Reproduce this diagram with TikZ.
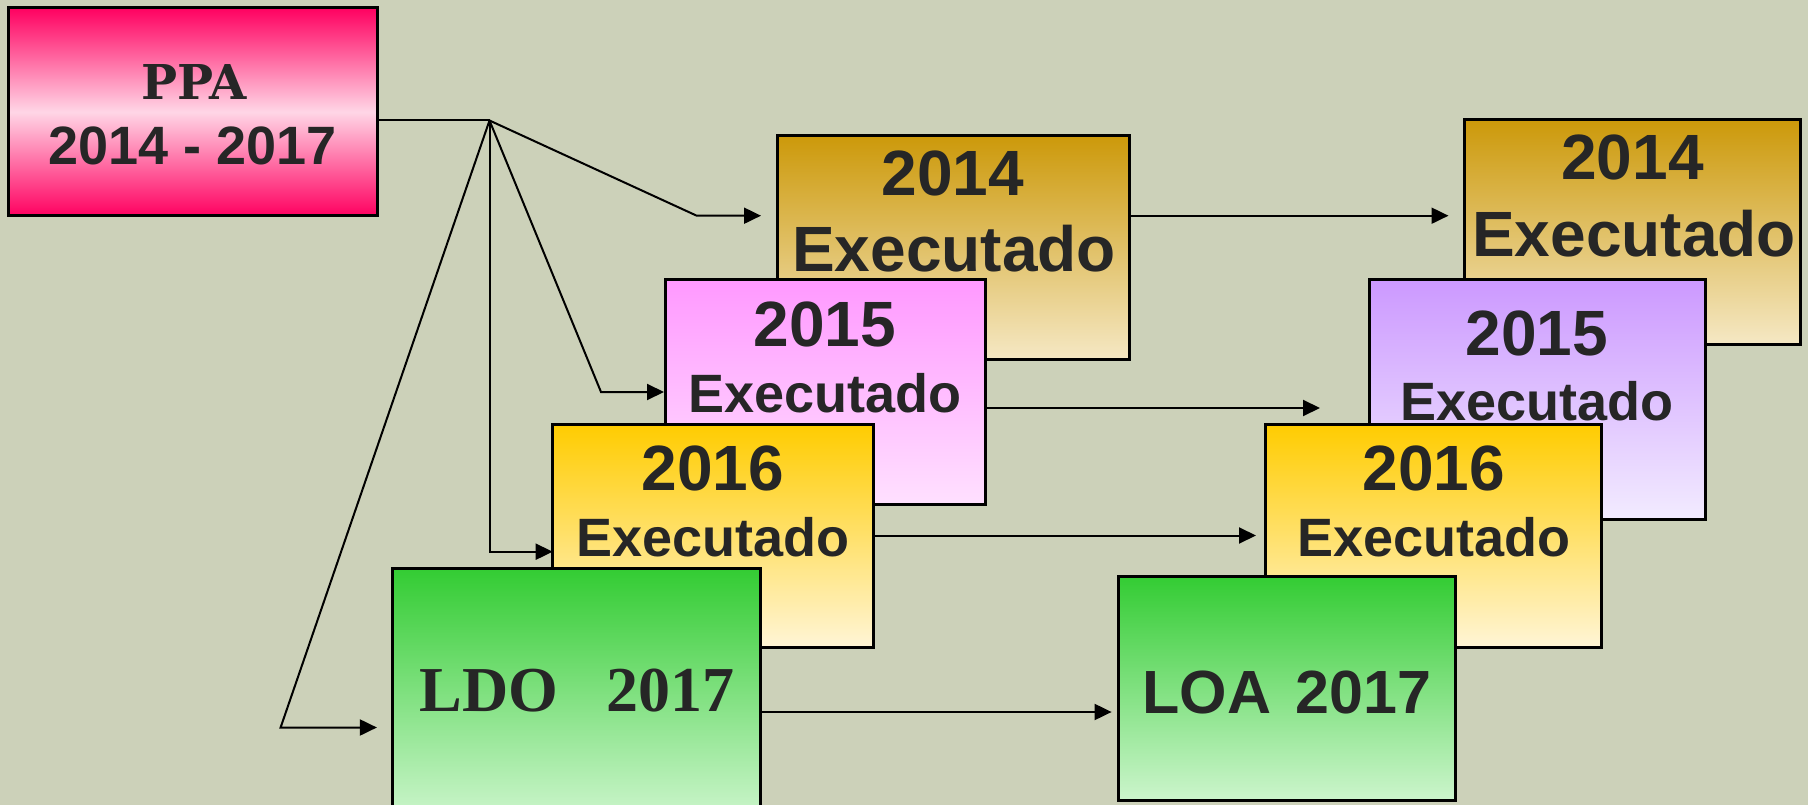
\documentclass[tikz,border=0pt]{standalone}
\usepackage{fontspec}
\setmainfont{Liberation Sans}
\newfontfamily\ppafont{DejaVu Serif}
\newfontfamily\ldofont{Liberation Serif}
\usetikzlibrary{arrows.meta}
\pgfdeclarelayer{bglayer}
\pgfdeclarelayer{connlayer}
\pgfsetlayers{bglayer,connlayer,main}
\definecolor{bg}{RGB}{204,209,185}
\definecolor{txtc}{RGB}{38,38,38}
\definecolor{ppaA}{RGB}{255,0,96}
\definecolor{ppaB}{RGB}{255,214,230}
\definecolor{goldA}{RGB}{204,153,10}
\definecolor{goldB}{RGB}{245,232,196}
\definecolor{pinkA}{RGB}{255,153,255}
\definecolor{pinkB}{RGB}{255,224,255}
\definecolor{lilaA}{RGB}{204,153,255}
\definecolor{lilaB}{RGB}{242,235,255}
\definecolor{yelA}{RGB}{255,204,0}
\definecolor{yelB}{RGB}{255,245,214}
\definecolor{grnA}{RGB}{51,204,51}
\definecolor{grnB}{RGB}{204,245,204}
\begin{document}
\begin{tikzpicture}[x=1pt,y=-1pt,
  box/.style={draw=black,line width=3pt,inner sep=0pt,outer sep=0pt,anchor=north west,rectangle},
  conn/.style={line width=2pt,draw=black},
  arr/.style={conn,-{Triangle[length=17pt,width=16pt]}},
  big/.style={anchor=base,inner sep=0pt,text=txtc,font=\bfseries\fontsize{64}{64}\selectfont},
  mid/.style={anchor=base,inner sep=0pt,text=txtc,font=\bfseries\fontsize{54}{54}\selectfont},
  gold/.style={top color=goldA,bottom color=goldB},
  pink/.style={top color=pinkA,bottom color=pinkB},
  lila/.style={top color=lilaA,bottom color=lilaB},
  yel/.style={top color=yelA,bottom color=yelB},
  grn/.style={top color=grnA,bottom color=grnB}]
\begin{pgfonlayer}{bglayer}
\fill[bg] (0,0) rectangle (1808,805);
\end{pgfonlayer}
\useasboundingbox (0,0) rectangle (1808,805);
\clip (0,0) rectangle (1808,805);

\node[box,minimum width=369pt,minimum height=208.3pt,top color=ppaA,bottom color=ppaA,middle color=ppaB] (ppa) at (8.3,7.7) {};
\node[anchor=base,inner sep=0pt,text=txtc,font=\ppafont\bfseries\fontsize{48}{48}\selectfont] (ppat) at (194,100) {PPA};
\node[anchor=base,inner sep=0pt,text=txtc,font=\bfseries\fontsize{54}{54}\selectfont] (ppay) at (192.5,165) {2014 - 2017};

\coordinate (fan) at (489.5,120.5);
\coordinate (k14) at (696.7,215.7);
\coordinate (k15) at (601,392);
\coordinate (k16) at (489.5,551.7);
\coordinate (kl) at (280.6,727.5);
\coordinate (h14) at (0,215.7);
\coordinate (h15) at (0,408);
\coordinate (h16) at (0,535.5);
\coordinate (hl) at (0,712);

% left column
\node[box,gold,minimum width=352.5pt,minimum height=223.6pt] (y14a) at (777,135.7) {};
\node[big] (t14a) at (953,196) {2014};
\node[big] (e14a) at (954,272) {Executado};

\node[box,pink,minimum width=320pt,minimum height=224pt] (y15a) at (665,280) {};
\node[big] (t15a) at (825,346.7) {2015};
\node[mid] (e15a) at (825.3,412.3) {Executado};

\node[box,yel,minimum width=320.3pt,minimum height=223.7pt] (y16a) at (552.7,424) {};
\node[big] (t16a) at (712.8,490) {2016};
\node[mid] (e16a) at (712.8,556) {Executado};

\node[box,grn,minimum width=367.8pt,minimum height=250pt] (ldo) at (392.9,568.3) {};
\node[anchor=base,inner sep=0pt,text=txtc,font=\ldofont\bfseries\fontsize{64}{64}\selectfont] (ldot) at (576.8,711.7) {LDO\ \ \ 2017};

% right column
\node[box,gold,minimum width=335.9pt,minimum height=224pt] (y14b) at (1464.8,120) {};
\node[big] (t14b) at (1632.5,180) {2014};
\node[big] (e14b) at (1634,256.7) {Executado};

\node[box,lila,minimum width=336pt,minimum height=239pt] (y15b) at (1369,280) {};
\node[big] (t15b) at (1537,355) {2015};
\node[mid] (e15b) at (1537,420) {Executado};

\node[box,yel,minimum width=336.2pt,minimum height=223.7pt] (y16b) at (1265.6,424) {};
\node[big] (t16b) at (1433.7,490) {2016};
\node[mid] (e16b) at (1433.7,556) {Executado};

\node[box,grn,minimum width=336.7pt,minimum height=224pt] (loa) at (1118.3,576) {};
\node[anchor=base,inner sep=0pt,text=txtc,font=\bfseries\fontsize{61}{61}\selectfont] (loat) at (1286.7,713.3) {LOA \hspace{0.12em}2017};

% connectors, behind the boxes
\begin{pgfonlayer}{connlayer}
\draw[conn] (ppa.east |- fan) -- (fan);
\draw[arr,shorten >=16pt] (fan) -- (k14) -- (y14a.west |- k14);
\draw[arr,shorten >=1pt] (fan) -- (k15) -- (y15a.west |- k15);
\draw[arr] (fan) -- (k16) -- (y16a.west |- k16);
\draw[arr,shorten >=16pt] (fan) -- (kl) -- (ldo.west |- kl);
\draw[arr,shorten >=16.3pt] (y14a.east |- h14) -- (y14b.west |- h14);
\draw[arr,shorten >=49pt] (y15a.east |- h15) -- (y15b.west |- h15);
\draw[arr,shorten >=9.6pt] (y16a.east |- h16) -- (y16b.west |- h16);
\draw[arr,shorten >=6.7pt] (ldo.east |- hl) -- (loa.west |- hl);
\end{pgfonlayer}
\end{tikzpicture}
\end{document}
